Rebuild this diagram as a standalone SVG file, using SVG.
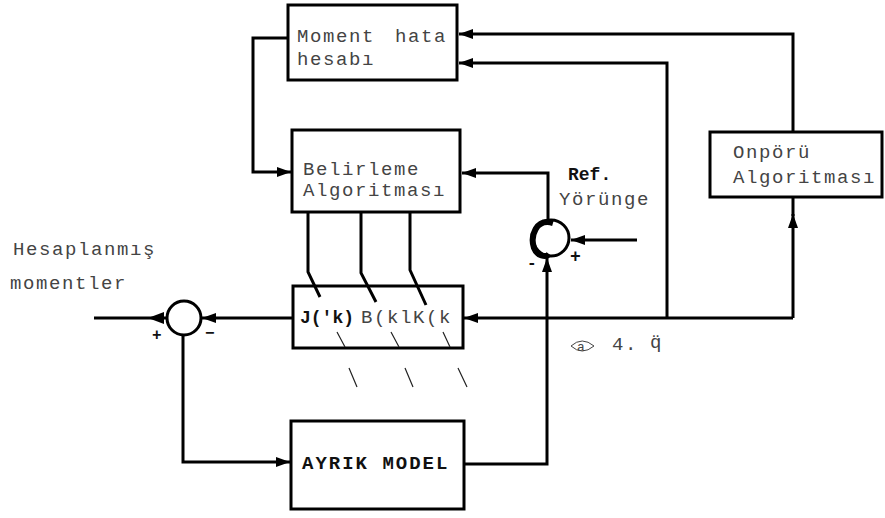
<svg xmlns="http://www.w3.org/2000/svg" width="885" height="518" viewBox="0 0 885 518">
<style>
.box{fill:#fff;stroke:#000;stroke-width:3}
.t{font-family:"Liberation Mono","Courier New",monospace;font-size:19px;letter-spacing:1.6px;fill:#444}
.b{font-family:"Liberation Mono","Courier New",monospace;font-size:18px;font-weight:bold;fill:#111}
.ln{fill:none;stroke:#000;stroke-width:3}
.thin{fill:none;stroke:#222;stroke-width:1.2}
.sum{fill:#fff;stroke:#000;stroke-width:3}
</style>
<defs>
<marker id="ah" viewBox="0 0 14 10" refX="14" refY="5" markerWidth="14" markerHeight="10" markerUnits="userSpaceOnUse" orient="auto">
<path d="M0,0 L14,5 L0,10 Z" fill="#000"/>
</marker>
</defs>
<rect width="885" height="518" fill="#fff"/>

<g id="moment-hata">
<rect class="box" x="288" y="5" width="169" height="75"/>
<text class="t" x="297" y="42">Moment</text>
<text class="t" x="395" y="42">hata</text>
<text class="t" x="297" y="65">hesabı</text>
</g>

<g id="belirleme">
<rect class="box" x="292" y="130" width="168" height="82"/>
<text class="t" x="303" y="175">Belirleme</text>
<text class="t" x="303" y="196">Algoritması</text>
</g>

<g id="onporu">
<rect class="box" x="710" y="132" width="172" height="65"/>
<text class="t" x="733" y="158">Onpörü</text>
<text class="t" x="733" y="183">Algoritması</text>
</g>

<g id="j-box">
<rect class="box" x="293" y="286" width="170" height="62"/>
<text class="b" x="300" y="323">J('k)</text>
<text class="t" x="361" y="323">B(klK(k</text>
<path class="thin" d="M337,332 L345,347 M391,332 L399,347 M443,332 L450,347"/>
</g>

<g id="ayrik-model">
<rect class="box" x="291" y="421" width="173" height="88"/>
<text class="b" x="302" y="469" style="font-size:19px;letter-spacing:2px">AYRIK  MODEL</text>
</g>

<g id="left-sum">
<circle class="sum" cx="184" cy="318" r="17"/>
<text class="b" x="152" y="340" style="font-size:16px">+</text>
<text class="b" x="205" y="338" style="font-size:16px">−</text>
</g>

<g id="ref-sum">
<circle class="sum" cx="551" cy="238" r="18"/>
<path d="M553,223 C536,218 530,236 534,248 C537,256 546,258 549,254" fill="none" stroke="#000" stroke-width="6"/>
<text class="b" x="570" y="262" style="font-size:18px">+</text>
<text class="b" x="527" y="268" style="font-size:16px">-</text>
<text class="b" x="568" y="180">Ref.</text>
<text class="t" x="559" y="205">Yörünge</text>
</g>

<g id="connectors">
<path class="ln" d="M793,132 V34 H459" marker-end="url(#ah)"/>
<path class="ln" d="M667,318 V63 H459" marker-end="url(#ah)"/>
<path class="ln" d="M288,38 H253 V172 H291" marker-end="url(#ah)"/>
<path class="ln" d="M548,220 V173 H462" marker-end="url(#ah)"/>
<path class="ln" d="M637,240 H571" marker-end="url(#ah)"/>
<path class="ln" d="M464,464 H547 V258" marker-end="url(#ah)"/>
<path class="ln" d="M793,318 H464" marker-end="url(#ah)"/>
<path class="ln" d="M793,318 V214" marker-end="url(#ah)"/>
<path class="ln" d="M793,216 V197"/>
<path class="ln" d="M293,318 H202" marker-end="url(#ah)"/>
<path class="ln" d="M167,318 H94"/>
<path d="M148,318 L164,312 L164,324 Z" fill="#000"/>
<path class="ln" d="M183,335 V462 H290" marker-end="url(#ah)"/>
<path class="ln" stroke-width="2.5" d="M308,212 V272 L320,297"/>
<path class="ln" stroke-width="2.5" d="M361,212 V273 L376,302"/>
<path class="ln" stroke-width="2.5" d="M410,212 V270 L426,305"/>
<path class="thin" d="M349,368 L357,387 M405,368 L413,387 M458,368 L467,387"/>
</g>

<g id="labels">
<text class="t" x="13" y="255">Hesaplanmış</text>
<text class="t" x="10" y="289">momentler</text>
<path d="M571,346 Q582,336 594,346 Q582,356 571,346 Z" fill="none" stroke="#444" stroke-width="1"/>
<text class="t" x="577" y="351" style="font-size:13px;letter-spacing:0">a</text>
<text class="t" x="612" y="350">4.</text>
<text class="t" x="650" y="348">q̈</text>
</g>
</svg>
